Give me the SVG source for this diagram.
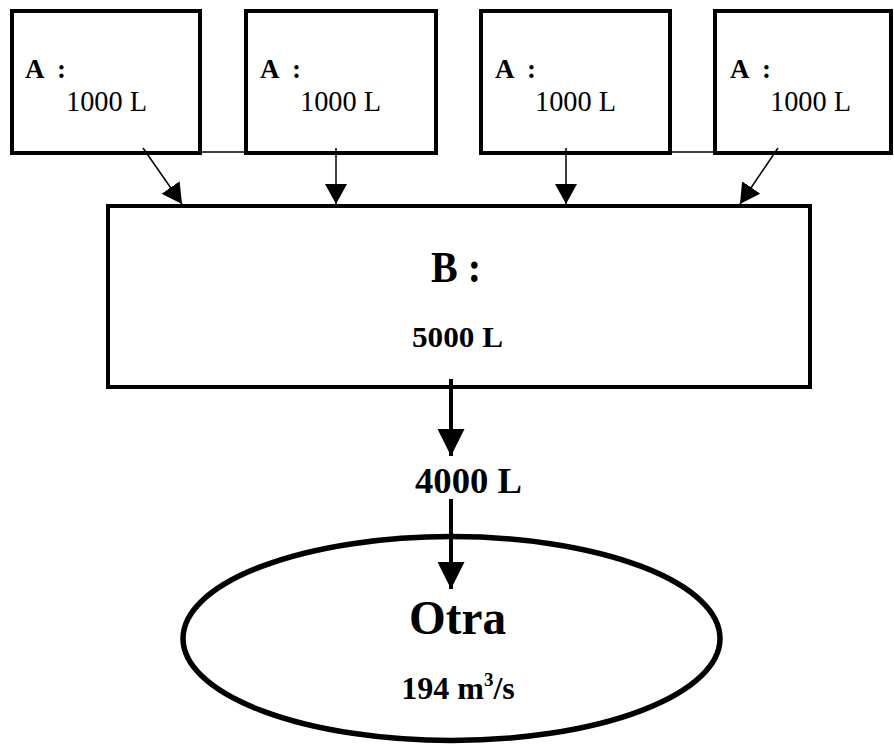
<svg xmlns="http://www.w3.org/2000/svg" width="894" height="745" viewBox="0 0 894 745">
  <style>
    .box { fill: #fff; stroke: #000; stroke-width: 4; }
    .link { stroke: #000; stroke-width: 1.5; fill: none; }
    .flow { stroke: #000; stroke-width: 4; fill: none; }
    .t { font-family: "Liberation Serif", "Times New Roman", serif; fill: #000; }
    .b { font-weight: bold; }
    .c { text-anchor: middle; }
  </style>
  <defs>
    <marker id="head-sm" markerUnits="userSpaceOnUse" markerWidth="20" markerHeight="22" viewBox="0 0 20 22" refX="20" refY="11" orient="auto">
      <path d="M0,0 L20,11 L0,22 Z" fill="#000"/>
    </marker>
    <marker id="head-lg" markerUnits="userSpaceOnUse" markerWidth="27" markerHeight="27" viewBox="0 0 27 27" refX="27" refY="13.5" orient="auto">
      <path d="M0,0 L27,13.5 L0,27 Z" fill="#000"/>
    </marker>
  </defs>

  <g id="tank-a1">
    <rect class="box" x="12" y="11" width="188" height="142"/>
    <text class="t b" x="25" y="78" font-size="27">A<tspan x="57">:</tspan></text>
    <text class="t" x="66" y="111" font-size="30" textLength="81" lengthAdjust="spacingAndGlyphs">1000 L</text>
  </g>
  <g id="tank-a2">
    <rect class="box" x="246" y="11" width="190" height="142"/>
    <text class="t b" x="260" y="78" font-size="27">A<tspan x="292">:</tspan></text>
    <text class="t" x="300" y="111" font-size="30" textLength="81" lengthAdjust="spacingAndGlyphs">1000 L</text>
  </g>
  <g id="tank-a3">
    <rect class="box" x="481" y="11" width="189" height="142"/>
    <text class="t b" x="495" y="78" font-size="27">A<tspan x="527">:</tspan></text>
    <text class="t" x="535" y="111" font-size="30" textLength="81" lengthAdjust="spacingAndGlyphs">1000 L</text>
  </g>
  <g id="tank-a4">
    <rect class="box" x="715" y="11" width="176" height="142"/>
    <text class="t b" x="730" y="78" font-size="27">A<tspan x="762">:</tspan></text>
    <text class="t" x="770" y="111" font-size="30" textLength="81" lengthAdjust="spacingAndGlyphs">1000 L</text>
  </g>

  <g id="tank-b">
    <rect class="box" x="108" y="206" width="702" height="181"/>
    <text class="t b" x="431" y="282" font-size="44" textLength="50" lengthAdjust="spacingAndGlyphs">B :</text>
    <text class="t b" x="412" y="347" font-size="29" textLength="91" lengthAdjust="spacingAndGlyphs">5000 L</text>
  </g>

  <g id="label-out">
    <text class="t b" x="415" y="493" font-size="35" textLength="107" lengthAdjust="spacingAndGlyphs">4000 L</text>
  </g>

  <g id="river">
    <ellipse class="box" cx="451.5" cy="638.5" rx="268.5" ry="102" style="stroke-width:5.5"/>
    <text class="t b" x="409" y="634" font-size="48" textLength="97" lengthAdjust="spacingAndGlyphs">Otra</text>
    <text class="t b c" x="458" y="699" font-size="32">194 m<tspan font-size="19" dy="-13">3</tspan><tspan dy="13">/s</tspan></text>
  </g>

  <!-- pipes: thin joins between neighbouring tanks, feeds into B, outflow to the river -->
  <g id="connectors">
    <line class="link" x1="200" y1="152" x2="246" y2="152"/>
    <line class="link" x1="670" y1="152" x2="715" y2="152"/>
    <line class="link" x1="143" y1="148" x2="182" y2="204" marker-end="url(#head-sm)"/>
    <line class="link" x1="336" y1="148" x2="336" y2="204" marker-end="url(#head-sm)"/>
    <line class="link" x1="566" y1="148" x2="566" y2="204" marker-end="url(#head-sm)"/>
    <line class="link" x1="778" y1="148" x2="740" y2="204" marker-end="url(#head-sm)"/>
    <line class="flow" x1="451" y1="379" x2="451" y2="456" marker-end="url(#head-lg)"/>
    <line class="flow" x1="451" y1="499" x2="451" y2="589" marker-end="url(#head-lg)"/>
  </g>
</svg>
